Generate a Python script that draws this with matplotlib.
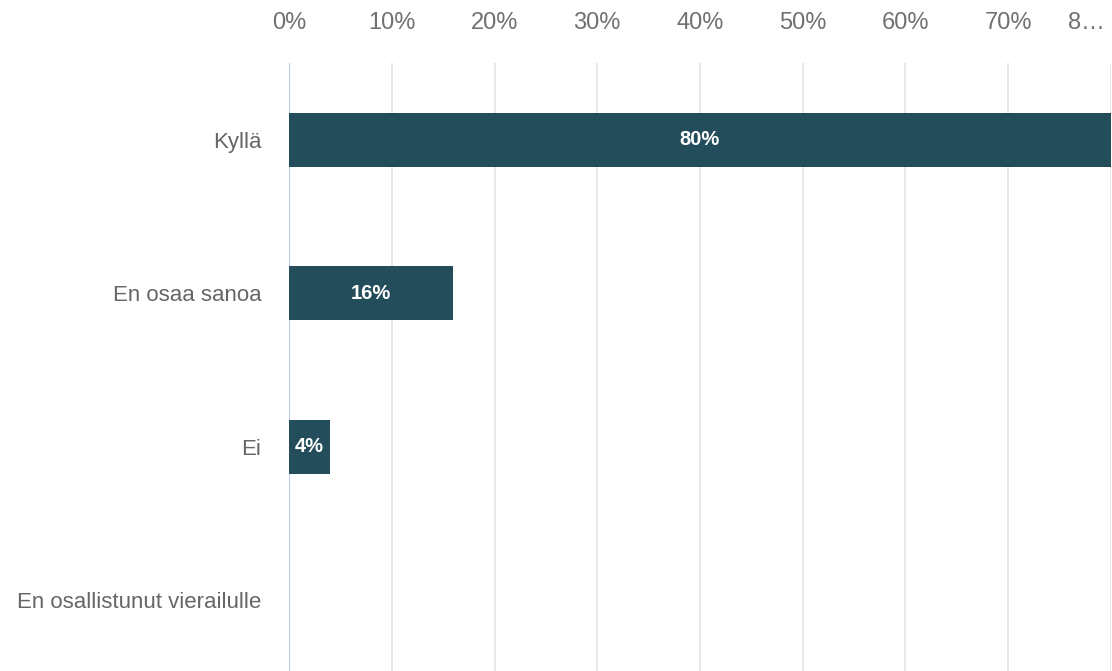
import matplotlib
matplotlib.use("Agg")
import matplotlib.pyplot as plt
import matplotlib.transforms as mtransforms

# Vastausjakauma
categories = ["Kyllä", "En osaa sanoa", "Ei", "En osallistunut vierailulle"]
values = [80, 16, 4, 0]
tick_values = [0, 10, 20, 30, 40, 50, 60, 70, 80]
tick_labels = ["0%", "10%", "20%", "30%", "40%", "50%", "60%", "70%", "8…"]

BAR_COLOR = "#234d5a"
GRID_COLOR = "#e3e3e3"

plt.rcParams["font.family"] = ["Liberation Sans", "DejaVu Sans"]

fig = plt.figure(figsize=(11.12, 6.71), dpi=100)
ax = fig.add_axes([289 / 1112, 0.0, 822 / 1112, 1 - 63 / 671])

y = list(range(len(categories)))
bars = ax.barh(y, values, height=0.35, color=BAR_COLOR, zorder=3)

for bar, v in zip(bars, values):
    if v <= 0:
        continue
    ax.text(bar.get_width() / 2, bar.get_y() + bar.get_height() / 2, f"{v}%",
            ha="center", va="center", color="white", fontsize=14.5,
            fontweight="bold", zorder=4)

ax.set_xlim(0, 80)
ax.set_ylim(3.46, -0.5)

# pystysuorat apuviivat
for t in tick_values[1:]:
    ax.axvline(t, color=GRID_COLOR, linewidth=1.2, zorder=1)
ax.axvline(0, color="#bccdf0", linewidth=1.6, zorder=2)

ax.xaxis.tick_top()
ax.set_xticks(tick_values)
ax.set_xticklabels(tick_labels, fontsize=17, color="#707070")
ax.tick_params(axis="x", length=0, pad=21)
last = ax.get_xticklabels()[-1]
last.set_transform(last.get_transform() + mtransforms.ScaledTranslation(-25 / 100, 0, fig.dpi_scale_trans))

ax.set_yticks(y)
ax.set_yticklabels(categories, fontsize=16, color="#666666")
ax.tick_params(axis="y", length=0, pad=20)

for s in ax.spines.values():
    s.set_visible(False)

fig.savefig("out.png", dpi=100)
